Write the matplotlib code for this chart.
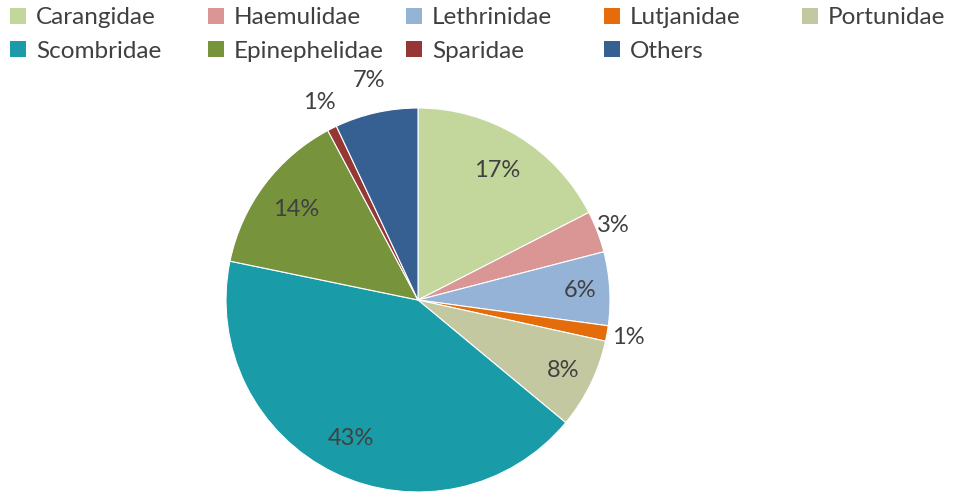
import numpy as np
import matplotlib
matplotlib.use('Agg')
import matplotlib.pyplot as plt
from matplotlib.patches import Patch

plt.rcParams['font.family'] = ['Lato', 'DejaVu Sans']

families = ['Carangidae', 'Haemulidae', 'Lethrinidae', 'Lutjanidae', 'Portunidae',
            'Scombridae', 'Epinephelidae', 'Sparidae', 'Others']
shares = [17.5, 3.5, 6.2, 1.3, 7.6, 42.3, 14.0, 0.8, 7.0]
labels = ['17%', '3%', '6%', '1%', '8%', '43%', '14%', '1%', '7%']
colors = ['#C3D69B', '#D99694', '#95B3D7', '#E46C0A', '#C4C8A0',
          '#1A9BA8', '#77933C', '#953735', '#376092']
# radial position of each label (fraction of radius)
label_r = [0.79, 1.09, 0.845, 1.11, 0.84, 0.8, 0.79, 1.15, 1.17]

txt = '#404040'

fig = plt.figure(figsize=(9.56, 4.93), dpi=100)
ax = fig.add_axes([226 / 956, 1 / 493, 384 / 956, 384 / 493])
wedges, _ = ax.pie(shares, colors=colors, startangle=90, counterclock=False,
                   wedgeprops=dict(edgecolor='white', linewidth=0.8))
ax.set_xlim(-1, 1)
ax.set_ylim(-1, 1)
ax.set_aspect('equal')

for w, lab, r in zip(wedges, labels, label_r):
    mid = np.deg2rad((w.theta1 + w.theta2) / 2)
    ax.text(r * np.cos(mid), r * np.sin(mid), lab, ha='center', va='center',
            fontsize=17, color=txt, clip_on=False)

# legend laid out row-wise, 5 columns
handles = [Patch(facecolor=c, edgecolor='none') for c in colors]
col_x = [8, 206, 404, 602, 800]
for i in range(5):
    idx = [j for j in (i, i + 5) if j < len(families)]
    fig.legend([handles[j] for j in idx], [families[j] for j in idx],
               loc='upper left', bbox_to_anchor=(col_x[i] / 956, 1.0 - 5 / 493),
               frameon=False, fontsize=17.5, labelcolor=txt,
               handlelength=0.65, handleheight=0.65, handletextpad=0.4,
               labelspacing=0.5, borderpad=0.1, borderaxespad=0)

fig.savefig('out.png', dpi=100)
